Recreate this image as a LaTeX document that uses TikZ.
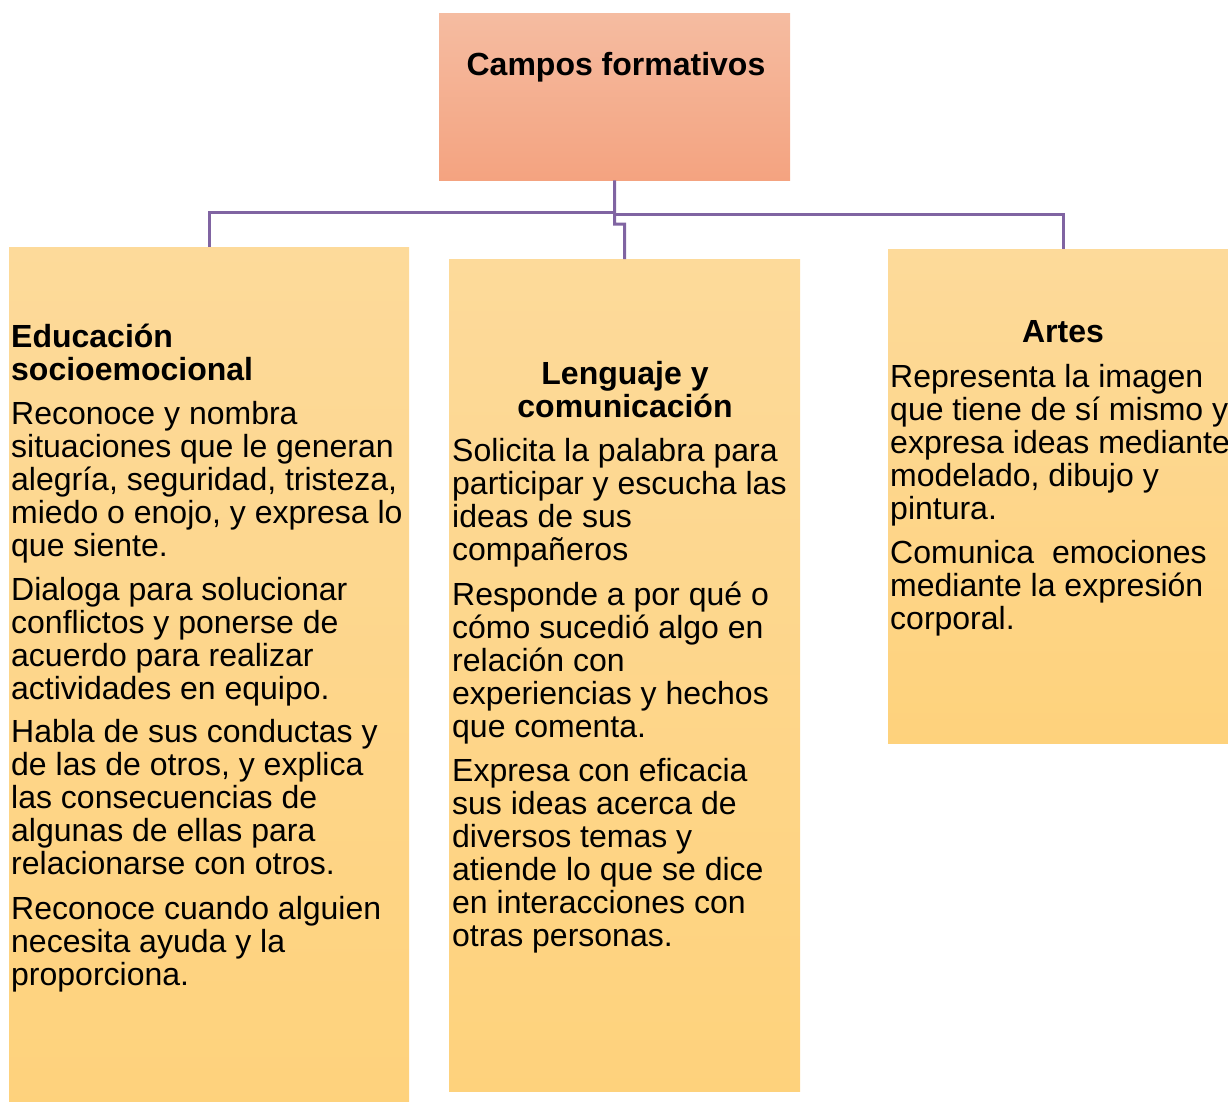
\documentclass[tikz,border=0pt]{standalone}
\usepackage{fontspec}
\setmainfont{Liberation Sans}
\definecolor{conncol}{HTML}{8064A2}
\definecolor{peachtop}{HTML}{F5BCA1}
\definecolor{peachbot}{HTML}{F4A380}
\definecolor{yeltop}{HTML}{FDDA9A}
\definecolor{yelbot}{HTML}{FED27C}
\tikzset{
  topbox/.style={rectangle, inner sep=0pt, anchor=north west, top color=peachtop, bottom color=peachbot, draw=none},
  fieldbox/.style={rectangle, inner sep=0pt, anchor=north west, top color=yeltop, bottom color=yelbot, draw=none},
  conn/.style={draw=conncol, line width=3pt},
  txt/.style={inner sep=0pt, anchor=base west, font=\fontsize{32}{33}\selectfont},
  hdr/.style={inner sep=0pt, anchor=base, font=\fontsize{32}{33}\selectfont\bfseries},
}
\begin{document}
\begin{tikzpicture}[x=1pt,y=-1pt]
\useasboundingbox (0,0) rectangle (1228,1102);
% boxes
\node[topbox, minimum width=351pt, minimum height=167pt] (top) at (439,13) {};
\node[fieldbox, minimum width=400pt, minimum height=863pt] (left) at (9,247) {};
\node[fieldbox, minimum width=351pt, minimum height=832pt] (mid) at (449,259) {};
\node[fieldbox, minimum width=350pt, minimum height=494pt] (right) at (888,249) {};
% connectors
\coordinate (jl) at (614.5,212);
\coordinate (jr) at (614.5,214);
\coordinate (jm) at (614.5,224);
\draw[conn] (top.south) -- (jm) -| (mid.north);
\draw[conn] (jl) -| (left.north);
\draw[conn] (jr) -| (right.north);
% texts
\node[hdr] (tt) at (616,76) {Campos formativos};
\node[txt] (lt) at (11,347) {\parbox[t]{420pt}{\raggedright
{\bfseries Educación\\socioemocional}\\[11pt]
Reconoce y nombra\\situaciones que le generan\\alegría, seguridad, tristeza,\\miedo o enojo, y expresa lo\\que siente.\\[11pt]
Dialoga para solucionar\\conflictos y ponerse de\\acuerdo para realizar\\actividades en equipo.\\[10.5pt]
Habla de sus conductas y\\de las de otros, y explica\\las consecuencias de\\algunas de ellas para\\relacionarse con otros.\\[12pt]
Reconoce cuando alguien\\necesita ayuda y la\\proporciona.}};
\node[hdr] (mh) at (625,384) {\parbox[t]{340pt}{\centering Lenguaje y\\comunicación}};
\node[txt] (mt) at (452,461) {\parbox[t]{400pt}{\raggedright
Solicita la palabra para\\participar y escucha las\\ideas de sus\\compañeros\\[12pt]
Responde a por qué o\\cómo sucedió algo en\\relación con\\experiencias y hechos\\que comenta.\\[11.5pt]
Expresa con eficacia\\sus ideas acerca de\\diversos temas y\\atiende lo que se dice\\en interacciones con\\otras personas.}};
\node[hdr] (rh) at (1063,342) {Artes};
\node[txt] (rt) at (890,387) {\parbox[t]{400pt}{\raggedright
Representa la imagen\\que tiene de sí mismo y\\expresa ideas mediante\\modelado, dibujo y\\pintura.\\[11pt]
Comunica\ \ emociones\\mediante la expresión\\corporal.}};
\end{tikzpicture}
\end{document}
